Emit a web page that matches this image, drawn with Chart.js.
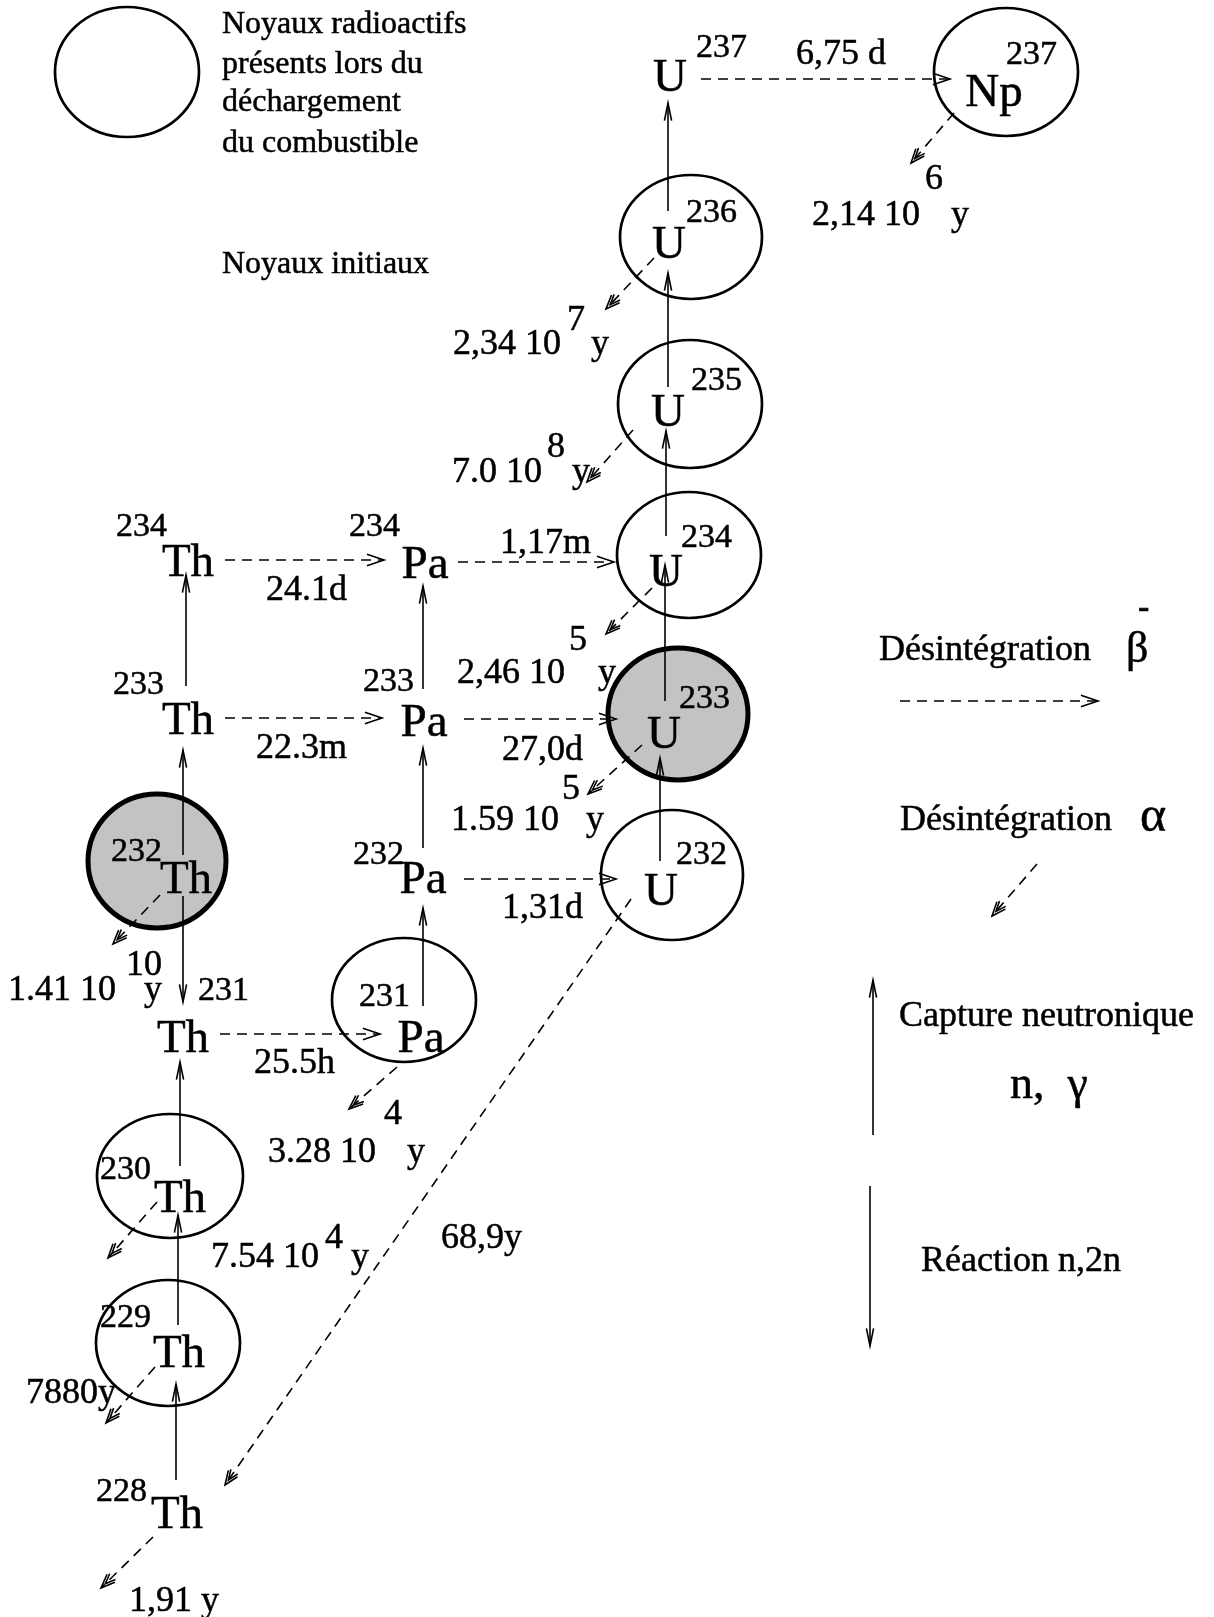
<!DOCTYPE html>
<html>
<head>
<meta charset="utf-8">
<script src="https://cdn.jsdelivr.net/npm/chart.js@4.4.1/dist/chart.umd.min.js"></script>
<style>
  html, body { margin: 0; padding: 0; background: #fff; }
  canvas { display: block; }
</style>
</head>
<body>
<canvas id="chaineThorium" width="1214" height="1617"></canvas>
<script>
// Coordonnees dans le repere du schema (x vers la droite, y vers le bas)

// Noyaux entoures (ellipses)
const circleX  = [127, 1006, 691, 690, 689, 678, 672, 157, 404, 170, 168];
const circleY  = [72, 72, 237, 404, 555, 714, 875, 861, 1000, 1176, 1343];
const circleRX = [72, 72, 71, 72, 72, 70, 71, 69, 72, 73, 72];
const circleRY = [65, 64, 62, 64, 63, 66, 65, 67, 62, 62, 63];
const circleInitial = [false, false, false, false, false, true, false, true, false, false, false];

// Symboles chimiques
const symbolText = ['U', 'Np', 'U', 'U', 'U', 'U', 'U', 'Th', 'Pa', 'Th', 'Pa', 'Th', 'Pa', 'Th', 'Pa', 'Th', 'Th', 'Th'];
const symbolX = [670, 994, 669, 668, 666, 664, 661, 188, 425, 188, 424, 186, 423, 183, 421, 180, 179, 177];
const symbolY = [91, 106, 258, 426, 586, 748, 905, 576, 578, 734, 736, 893, 893, 1052, 1052, 1212, 1367, 1528];

// Nombres de masse
const massText = ['237', '237', '236', '235', '234', '233', '232', '234', '234', '233', '233', '232', '232', '231', '231', '230', '229', '228'];
const massX = [696, 1006, 686, 691, 681, 679, 676, 116, 349, 113, 363, 111, 353, 198, 359, 100, 100, 96];
const massY = [57, 64, 222, 390, 547, 708, 864, 536, 536, 694, 691, 861, 864, 1000, 1006, 1179, 1327, 1501];

// Periodes
const periodText = ['6,75 d', '2,14 10', 'y', '2,34 10', 'y', '7.0 10', 'y', '1,17m', '24.1d', '2,46 10', 'y',
  '22.3m', '27,0d', '1.59 10', 'y', '1,31d', '1.41 10', 'y', '25.5h', '3.28 10', 'y', '7.54 10', 'y',
  '68,9y', '7880y', '1,91 y'];
const periodX = [796, 812, 951, 453, 591, 452, 572, 500, 266, 457, 598,
  256, 502, 451, 586, 502, 8, 144, 254, 268, 407, 211, 351,
  441, 26, 129];
const periodY = [64, 225, 225, 354, 354, 482, 482, 553, 600, 683, 683,
  758, 760, 830, 830, 918, 1000, 1000, 1073, 1162, 1162, 1267, 1267,
  1248, 1403, 1611];

// Exposants des periodes
const expText = ['6', '7', '8', '5', '5', '10', '4', '4'];
const expX = [925, 567, 547, 569, 562, 126, 384, 325];
const expY = [189, 330, 457, 650, 799, 975, 1124, 1248];

// Legende
const legendText = ['Noyaux radioactifs', 'présents lors du', 'déchargement', 'du combustible', 'Noyaux initiaux',
  'Désintégration', 'Désintégration', 'Capture neutronique', 'Réaction n,2n'];
const legendX = [222, 222, 222, 222, 222, 879, 900, 899, 921];
const legendY = [33, 73, 111, 152, 273, 660, 830, 1026, 1271];
const greekText = ['β', '-', 'α', 'n,  γ'];
const greekX = [1126, 1138, 1140, 1010];
const greekY = [662, 618, 831, 1098];

// Fleches : desintegration beta (tirets horizontaux)
const betaFrom = [[701, 79], [225, 560], [458, 562], [225, 718], [464, 719], [464, 879], [220, 1034], [900, 701]];
const betaTo   = [[950, 79], [384, 560], [614, 562], [382, 718], [616, 719], [616, 879], [380, 1034], [1098, 701]];

// Fleches : desintegration alpha (tirets en diagonale)
const alphaFrom = [[954, 113], [654, 258], [633, 430], [652, 588], [642, 745], [631, 899], [160, 895],
  [397, 1067], [157, 1202], [155, 1367], [153, 1537], [1037, 864]];
const alphaTo   = [[911, 163], [606, 309], [587, 482], [606, 634], [588, 794], [225, 1485], [113, 944],
  [349, 1109], [108, 1258], [106, 1423], [101, 1588], [992, 916]];

// Fleches : capture neutronique (vers le haut)
const captureFrom = [[668, 211], [668, 387], [666, 536], [665, 701], [660, 861], [186, 686], [183, 855],
  [423, 689], [423, 848], [423, 1006], [180, 1166], [178, 1325], [176, 1480], [873, 1135]];
const captureTo   = [[668, 103], [668, 273], [666, 431], [665, 565], [660, 758], [186, 575], [183, 750],
  [423, 586], [423, 748], [423, 908], [180, 1062], [178, 1215], [176, 1384], [873, 980]];

// Fleches : reaction n,2n (vers le bas)
const n2nFrom = [[183, 896], [870, 1186]];
const n2nTo   = [[183, 1002], [870, 1346]];

const SERIF = '"Liberation Serif", "Times New Roman", serif';

function arrowDatasets(from, to, kind) {
  const dashed = (kind === 'beta' || kind === 'alpha');
  return from.map((p, i) => ({
    type: 'line',
    kind: kind,
    data: [{ x: p[0], y: p[1] }, { x: to[i][0], y: to[i][1] }],
    borderColor: '#000',
    borderWidth: 1.6,
    borderDash: dashed ? [10, 7] : [],
    pointRadius: 0,
    fill: false,
    tension: 0
  }));
}

const datasets = [{
  type: 'scatter',
  label: 'noyaux',
  data: circleX.map((x, i) => ({ x: x, y: circleY[i] })),
  pointRadius: 0
}].concat(
  arrowDatasets(betaFrom, betaTo, 'beta'),
  arrowDatasets(alphaFrom, alphaTo, 'alpha'),
  arrowDatasets(captureFrom, captureTo, 'capture'),
  arrowDatasets(n2nFrom, n2nTo, 'n2n')
);

function drawHead(ctx, x0, y0, x1, y1, len, spread) {
  const a = Math.atan2(y1 - y0, x1 - x0);
  ctx.beginPath();
  ctx.moveTo(x1 - len * Math.cos(a - spread), y1 - len * Math.sin(a - spread));
  ctx.lineTo(x1, y1);
  ctx.lineTo(x1 - len * Math.cos(a + spread), y1 - len * Math.sin(a + spread));
  ctx.stroke();
}

// texte un peu plus gras, comme sur le document scanne
function drawText(ctx, t, x, y) {
  ctx.fillText(t, x, y);
  ctx.strokeText(t, x, y);
}

const diagramPlugin = {
  id: 'diagram',
  beforeDatasetsDraw(chart) {
    const ctx = chart.ctx;
    const xs = chart.scales.x, ys = chart.scales.y;
    const pts = chart.getDatasetMeta(0).data;
    ctx.save();
    pts.forEach((pt, i) => {
      const rx = Math.abs(xs.getPixelForValue(circleX[i] + circleRX[i]) - pt.x);
      const ry = Math.abs(ys.getPixelForValue(circleY[i] + circleRY[i]) - pt.y);
      ctx.beginPath();
      ctx.ellipse(pt.x, pt.y, rx, ry, 0, 0, Math.PI * 2);
      if (circleInitial[i]) {
        ctx.fillStyle = '#c3c3c3';
        ctx.fill();
        ctx.lineWidth = 5;
      } else {
        ctx.lineWidth = 2.7;
      }
      ctx.strokeStyle = '#000';
      ctx.stroke();
    });
    ctx.restore();
  },
  afterDatasetsDraw(chart) {
    const ctx = chart.ctx;
    const xs = chart.scales.x, ys = chart.scales.y;
    ctx.save();
    ctx.strokeStyle = '#000';
    ctx.lineWidth = 1.6;
    ctx.setLineDash([]);

    // pointes de fleches
    chart.data.datasets.forEach((ds, di) => {
      if (!ds.kind) return;
      const m = chart.getDatasetMeta(di).data;
      const p0 = m[0], p1 = m[1];
      if (ds.kind === 'beta') {
        drawHead(ctx, p0.x, p0.y, p1.x, p1.y, 18, 0.32);
      } else if (ds.kind === 'alpha') {
        const a = Math.atan2(p1.y - p0.y, p1.x - p0.x);
        drawHead(ctx, p0.x, p0.y, p1.x, p1.y, 15, 0.38);
        drawHead(ctx, p0.x, p0.y, p1.x - 6 * Math.cos(a), p1.y - 6 * Math.sin(a), 11, 0.38);
      } else {
        drawHead(ctx, p0.x, p0.y, p1.x, p1.y, 18, 0.2);
      }
    });

    ctx.fillStyle = '#000';
    ctx.lineWidth = 0.5;
    ctx.textBaseline = 'alphabetic';

    // symboles
    ctx.font = '47px ' + SERIF;
    ctx.textAlign = 'center';
    symbolText.forEach((t, i) => {
      drawText(ctx, t, xs.getPixelForValue(symbolX[i]), ys.getPixelForValue(symbolY[i]));
    });

    ctx.textAlign = 'left';
    ctx.font = '34px ' + SERIF;
    massText.forEach((t, i) => {
      drawText(ctx, t, xs.getPixelForValue(massX[i]), ys.getPixelForValue(massY[i]));
    });

    ctx.font = '36px ' + SERIF;
    periodText.forEach((t, i) => {
      drawText(ctx, t, xs.getPixelForValue(periodX[i]), ys.getPixelForValue(periodY[i]));
    });
    expText.forEach((t, i) => {
      drawText(ctx, t, xs.getPixelForValue(expX[i]), ys.getPixelForValue(expY[i]));
    });

    legendText.forEach((t, i) => {
      ctx.font = (i < 5 ? '32px ' : '36px ') + SERIF;
      drawText(ctx, t, xs.getPixelForValue(legendX[i]), ys.getPixelForValue(legendY[i]));
    });

    const greekFonts = ['44px ', 'bold 34px ', '50px ', '46px '];
    greekText.forEach((t, i) => {
      ctx.font = greekFonts[i] + SERIF;
      drawText(ctx, t, xs.getPixelForValue(greekX[i]), ys.getPixelForValue(greekY[i]));
    });
    ctx.restore();
  }
};

new Chart(document.getElementById('chaineThorium'), {
  type: 'scatter',
  data: { datasets: datasets },
  options: {
    responsive: false,
    animation: false,
    devicePixelRatio: 1,
    events: [],
    layout: { padding: 0 },
    plugins: {
      legend: { display: false },
      tooltip: { enabled: false }
    },
    scales: {
      x: { type: 'linear', min: 0, max: 1214, display: false },
      y: { type: 'linear', min: 0, max: 1617, reverse: true, display: false }
    }
  },
  plugins: [diagramPlugin]
});
</script>
</body>
</html>
